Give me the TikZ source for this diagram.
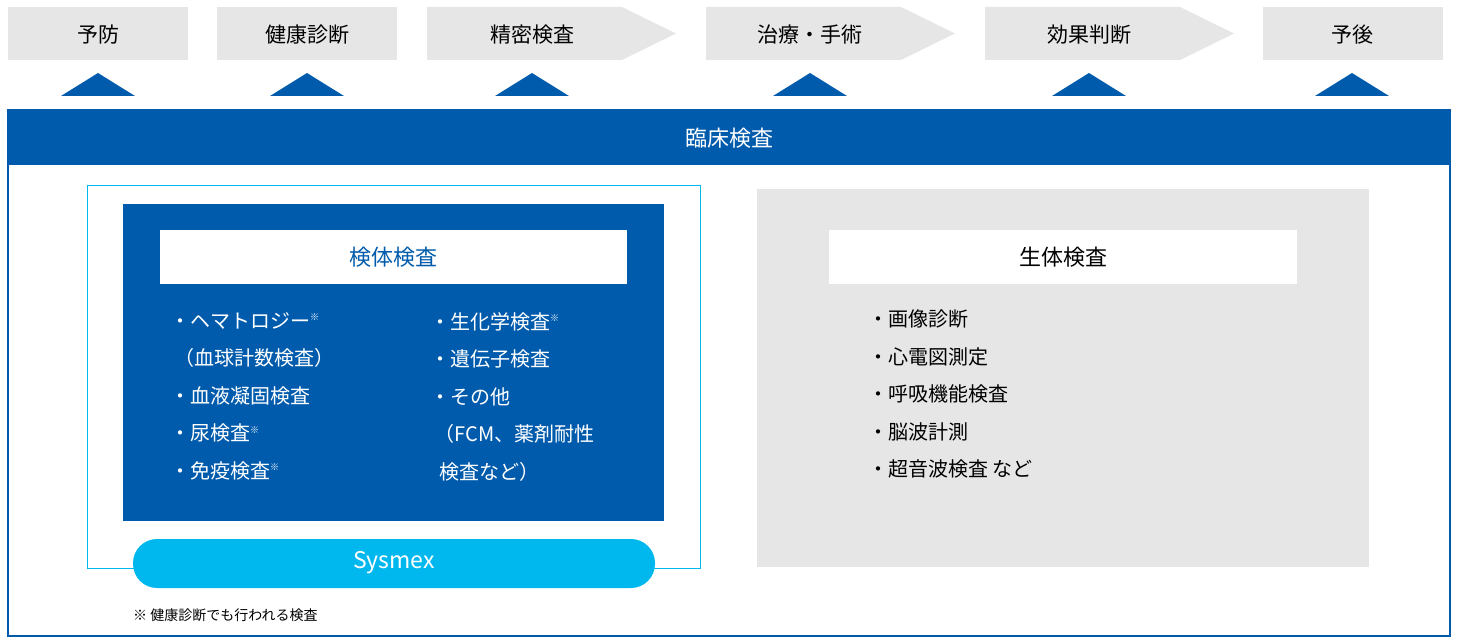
\documentclass[tikz,border=0pt]{standalone}
\usepackage{fontspec}
\setmainfont{Noto Sans CJK JP}
\definecolor{sxblue}{HTML}{005BAC}
\definecolor{sxcyan}{HTML}{00B8EE}
\definecolor{sxgray}{HTML}{E6E6E6}
\begin{document}
\begin{tikzpicture}[x=1pt,y=-1pt,
  stage/.style={fill=sxgray,draw=none},
  stagetxt/.style={font=\fontsize{21}{24}\selectfont,text=black},
  tri/.style={fill=sxblue,draw=none},
  listtxt/.style={font=\fontsize{20}{37.5}\selectfont,align=left,anchor=north west,inner sep=0},
  sup/.style={}]
\useasboundingbox (0,0) rectangle (1460,644);
% stages
\fill[stage] (8,7) rectangle (188,60);
\fill[stage] (217,7) rectangle (397,60);
\fill[stage] (427,7) -- (622,7) -- (676,33.5) -- (622,60) -- (427,60) -- cycle;
\fill[stage] (706,7) -- (901,7) -- (955,33.5) -- (901,60) -- (706,60) -- cycle;
\fill[stage] (985,7) -- (1180,7) -- (1234,33.5) -- (1180,60) -- (985,60) -- cycle;
\fill[stage] (1263,7) rectangle (1443,60);
\node[stagetxt] (s1) at (98,35) {予防};
\node[stagetxt] (s2) at (307,35) {健康診断};
\node[stagetxt] (s3) at (532,35) {精密検査};
\node[stagetxt] (s4) at (810,35) {治療・手術};
\node[stagetxt] (s5) at (1089,35) {効果判断};
\node[stagetxt] (s6) at (1352,35) {予後};
\foreach \x in {98,307,532,810,1089,1352}{
  \fill[tri] (\x-37,96) -- (\x,73) -- (\x+37,96) -- cycle;}
% main frame
\draw[sxblue,line width=1.2pt] (8,110) rectangle (1450,636);
\fill[sxblue] (8,110) rectangle (1450,165);
\node[text=white,font=\fontsize{22}{24}\selectfont] (rinsho) at (729,138) {臨床検査};
% left
\draw[sxcyan,line width=1pt] (87,186) rectangle (700,568);
\fill[sxblue] (123,204) rectangle (664,521);
\fill[white] (160,230) rectangle (627,284);
\node[text=sxblue,font=\fontsize{22}{24}\selectfont] (kentai) at (393.5,257) {検体検査};
\node[listtxt,text=white] (l1) at (170,312) {・ヘマトロジー\textsuperscript{\fontsize{9}{9}\selectfont ※}\\
\ （血球計数検査）\\
・血液凝固検査\\
・尿検査\textsuperscript{\fontsize{9}{9}\selectfont ※}\\
・免疫検査\textsuperscript{\fontsize{9}{9}\selectfont ※}};
\node[listtxt,text=white] (l2) at (430,312) {・生化学検査\textsuperscript{\fontsize{9}{9}\selectfont ※}\\
・遺伝子検査\\
・その他\\
\ （FCM、薬剤耐性\\
\ \ 検査など）};
\fill[sxcyan,rounded corners=24pt] (133,539) rectangle (655,588);
\node[text=white,font=\fontsize{23}{24}\selectfont] (sysmex) at (394,563) {Sysmex};
% right
\fill[sxgray] (757,189) rectangle (1369,567);
\fill[white] (829,230) rectangle (1297,284);
\node[font=\fontsize{22}{24}\selectfont] (seitai) at (1063,257) {生体検査};
\node[listtxt] (r1) at (868,310) {・画像診断\\
・心電図測定\\
・呼吸機能検査\\
・脳波計測\\
・超音波検査 など};
\node[anchor=west,font=\fontsize{14}{16}\selectfont,inner sep=0] (note) at (133,615) {※ 健康診断でも行われる検査};
\end{tikzpicture}
\end{document}
